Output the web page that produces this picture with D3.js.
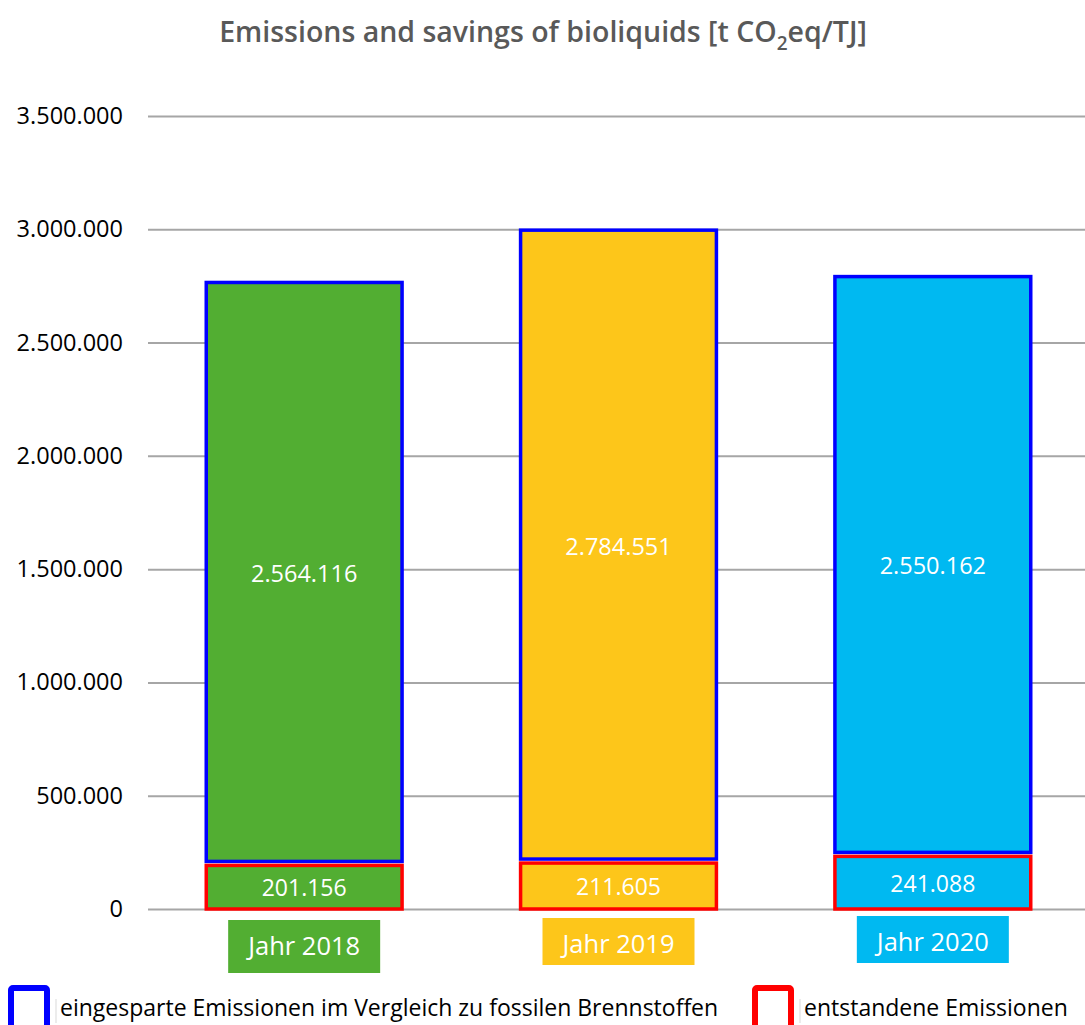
<!DOCTYPE html>
<html>
<head>
<meta charset="utf-8">
<script src="https://cdn.jsdelivr.net/npm/d3@7"></script>
<style>
  body { margin: 0; background: #fff; }
  svg { display: block; font-family: "Open Sans", sans-serif; }
</style>
</head>
<body>
<div id="chart"></div>
<script>
// chart data
var years = ["Jahr 2018", "Jahr 2019", "Jahr 2020"];
var emissions = [201156, 211605, 241088];
var savings = [2564116, 2784551, 2550162];
var yearColors = ["#52ae32", "#fdc61a", "#00b9f1"];
var yTicks = [0, 500000, 1000000, 1500000, 2000000, 2500000, 3000000, 3500000];
var legendLabels = ["eingesparte Emissionen im Vergleich zu fossilen Brennstoffen", "entstandene Emissionen"];
var legendColors = ["#0000ff", "#ff0000"];

var w = 1085, h = 1025;

// german number format 3.500.000
var de = d3.formatLocale({ decimal: ",", thousands: ".", grouping: [3], currency: ["", "€"] });
var fmt = de.format(",d");

var svg = d3.select("#chart").append("svg")
  .attr("width", w)
  .attr("height", h);

var x = d3.scaleBand()
  .domain(years)
  .range([147, 1090])
  .paddingInner(0.377)
  .paddingOuter(0.1885);

var y = d3.scaleLinear()
  .domain([0, 3500000])
  .range([909, 116]);

// title
var title = svg.append("text")
  .attr("x", 543)
  .attr("y", 42)
  .attr("text-anchor", "middle")
  .attr("fill", "#595959")
  .attr("font-size", 28.5)
  .attr("font-weight", 600);
title.append("tspan").text("Emissions and savings of bioliquids [t CO");
title.append("tspan").attr("font-size", 19).attr("dy", 8).text("2");
title.append("tspan").attr("dy", -8).text("eq/TJ]");

// y axis with gridlines
var yAxis = d3.axisLeft(y)
  .tickValues(yTicks)
  .tickFormat(fmt)
  .tickSize(-(w - 148))
  .tickPadding(25);

var gy = svg.append("g")
  .attr("transform", "translate(148,0)")
  .call(yAxis);
gy.select(".domain").remove();
gy.selectAll(".tick line")
  .attr("stroke", "#a6a6a6")
  .attr("stroke-width", 2);
gy.selectAll(".tick text")
  .attr("font-family", "Open Sans, sans-serif")
  .attr("font-size", 23.5)
  .attr("fill", "#000");

var bars = years.map(function(d, i) {
  return { year: d, em: emissions[i], sav: savings[i], color: yearColors[i] };
});

var g = svg.append("g");

// savings segment (blue outline)
g.selectAll(".sav")
  .data(bars)
  .enter()
  .append("rect")
  .attr("class", "sav")
  .attr("x", function(d){ return x(d.year); })
  .attr("y", function(d){ return y(d.em + d.sav); })
  .attr("width", x.bandwidth())
  .attr("height", function(d){ return y(d.em) - y(d.em + d.sav) - 2; })
  .attr("fill", function(d){ return d.color; })
  .attr("stroke", "#0000ff")
  .attr("stroke-width", 3.5);

// emission segment (red outline)
g.selectAll(".em")
  .data(bars)
  .enter()
  .append("rect")
  .attr("class", "em")
  .attr("x", function(d){ return x(d.year); })
  .attr("y", function(d){ return y(d.em) + 2; })
  .attr("width", x.bandwidth())
  .attr("height", function(d){ return y(0) - y(d.em) - 2; })
  .attr("fill", function(d){ return d.color; })
  .attr("stroke", "#ff0000")
  .attr("stroke-width", 3.5);

// value labels
g.selectAll(".savlbl")
  .data(bars)
  .enter()
  .append("text")
  .attr("x", function(d){ return x(d.year) + x.bandwidth() / 2; })
  .attr("y", function(d){ return (y(d.em + d.sav) + y(d.em)) / 2 + 9; })
  .attr("text-anchor", "middle")
  .attr("fill", "#fff")
  .attr("font-size", 23.5)
  .text(function(d){ return fmt(d.sav); });

g.selectAll(".emlbl")
  .data(bars)
  .enter()
  .append("text")
  .attr("x", function(d){ return x(d.year) + x.bandwidth() / 2; })
  .attr("y", function(d){ return (y(d.em) + y(0)) / 2 + 10; })
  .attr("text-anchor", "middle")
  .attr("fill", "#fff")
  .attr("font-size", 23)
  .text(function(d){ return fmt(d.em); });

// year labels in coloured boxes
var yl = svg.selectAll(".yl")
  .data(bars)
  .enter()
  .append("g")
  .attr("transform", function(d, i){
    return "translate(" + (x(d.year) + x.bandwidth() / 2) + "," + [945, 943, 941][i] + ")";
  });
yl.append("rect")
  .attr("x", -76)
  .attr("y", -25)
  .attr("width", 152)
  .attr("height", function(d, i){ return [53, 47, 47][i]; })
  .attr("fill", function(d){ return d.color; });
yl.append("text")
  .attr("text-anchor", "middle")
  .attr("y", 10)
  .attr("fill", "#fff")
  .attr("font-size", 25.5)
  .text(function(d){ return d.year; });

// legend
var lg = svg.selectAll(".lg")
  .data(legendLabels)
  .enter()
  .append("g")
  .attr("transform", function(d, i){ return "translate(" + [8, 752][i] + ",985)"; });
lg.append("rect")
  .attr("x", 3)
  .attr("y", 3)
  .attr("width", 36)
  .attr("height", 40)
  .attr("rx", 2)
  .attr("fill", "#fff")
  .attr("stroke", function(d, i){ return legendColors[i]; })
  .attr("stroke-width", 6);
lg.append("line")
  .attr("x1", 48).attr("x2", 48)
  .attr("y1", 14).attr("y2", 38)
  .attr("stroke", "#e6e6e6")
  .attr("stroke-width", 1.5);
lg.append("text")
  .attr("x", 52)
  .attr("y", 31)
  .attr("font-size", 23)
  .attr("fill", "#000")
  .text(function(d){ return d; });
</script>
</body>
</html>
